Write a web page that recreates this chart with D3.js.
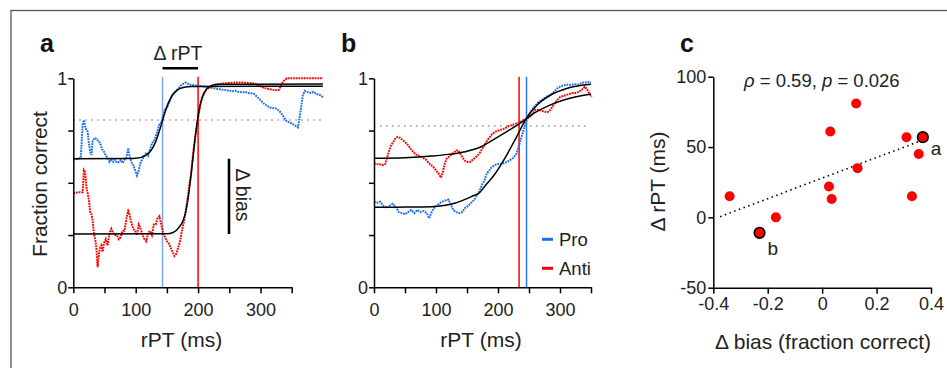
<!DOCTYPE html>
<html>
<head>
<meta charset="utf-8">
<script src="https://d3js.org/d3.v7.min.js"></script>
<style>
  body { margin: 0; background: #fff; }
  svg { display: block; font-family: "Liberation Sans", Arial, Helvetica, sans-serif; }
  .axis path, .axis line { stroke: #000; stroke-width: 1.5px; fill: none; }
  .axis text { font-size: 18px; fill: #222; font-family: "Liberation Sans", Arial, sans-serif; }
  .title { font-size: 21px; fill: #222; }
  .letter { font-size: 25px; font-weight: bold; fill: #111; }
</style>
</head>
<body>
<svg id="fig" width="947" height="368"></svg>
<script>
// panel a: rPT (ms) vs fraction correct, pro (blue) and anti (red)
const proA = [[0,0.612],[4,0.613],[8,0.615],[12,0.62],[15,0.78],[17,0.8],[19,0.77],[21,0.75],[23,0.745],[25,0.69],[27,0.65],[29,0.633],[31,0.7],[34,0.715],[37,0.71],[40,0.7],[43,0.69],[46,0.66],[49,0.65],[52,0.63],[55,0.62],[58,0.6],[61,0.615],[64,0.6],[67,0.61],[70,0.595],[73,0.6],[76,0.61],[79,0.595],[82,0.61],[85,0.62],[88,0.665],[90,0.63],[93,0.6],[96,0.585],[99,0.56],[102,0.535],[105,0.56],[108,0.6],[111,0.615],[114,0.63],[117,0.645],[120,0.63],[123,0.66],[126,0.69],[129,0.7],[132,0.72],[135,0.75],[138,0.78],[141,0.79],[144,0.82],[147,0.85],[150,0.86],[153,0.88],[156,0.9],[159,0.92],[162,0.93],[165,0.94],[168,0.95],[171,0.96],[174,0.97],[177,0.975],[180,0.98],[183,0.975],[186,0.97],[190,0.968],[195,0.966],[200,0.965],[205,0.963],[210,0.96],[215,0.958],[220,0.955],[225,0.952],[230,0.95],[235,0.948],[240,0.945],[245,0.944],[250,0.94],[255,0.938],[260,0.94],[265,0.935],[270,0.933],[275,0.935],[280,0.93],[285,0.928],[290,0.925],[295,0.91],[300,0.895],[305,0.88],[310,0.87],[315,0.86],[320,0.858],[325,0.855],[330,0.845],[335,0.825],[340,0.8],[345,0.79],[350,0.785],[355,0.775],[360,0.765],[362,0.8],[365,0.86],[368,0.92],[371,0.94],[375,0.935],[380,0.93],[385,0.935],[390,0.925],[395,0.92],[400,0.91]];
const antiA = [[0,0.45],[4,0.452],[8,0.455],[12,0.455],[15,0.455],[17,0.56],[19,0.55],[21,0.48],[23,0.45],[25,0.42],[27,0.36],[29,0.35],[31,0.32],[33,0.26],[35,0.23],[37,0.19],[39,0.096],[41,0.16],[43,0.19],[45,0.2],[47,0.17],[49,0.21],[52,0.23],[55,0.2],[58,0.26],[61,0.28],[64,0.26],[67,0.25],[70,0.25],[73,0.23],[76,0.24],[79,0.27],[82,0.27],[84,0.31],[86,0.34],[88,0.365],[90,0.35],[92,0.32],[94,0.3],[96,0.28],[99,0.27],[102,0.25],[105,0.3],[108,0.28],[111,0.25],[114,0.23],[117,0.22],[120,0.26],[123,0.27],[126,0.25],[129,0.3],[132,0.3],[135,0.33],[138,0.34],[141,0.3],[144,0.26],[147,0.24],[150,0.22],[153,0.21],[156,0.19],[159,0.17],[162,0.15],[165,0.16],[168,0.19],[171,0.22],[174,0.27],[177,0.31],[180,0.36],[183,0.42],[186,0.49],[189,0.55],[192,0.64],[195,0.71],[198,0.77],[201,0.83],[204,0.88],[207,0.91],[210,0.93],[213,0.945],[217,0.955],[221,0.96],[225,0.965],[230,0.97],[240,0.975],[250,0.978],[260,0.98],[270,0.98],[280,0.978],[290,0.975],[295,0.97],[300,0.962],[305,0.955],[310,0.95],[315,0.948],[320,0.945],[325,0.943],[330,0.945],[334,0.975],[338,0.99],[342,1],[350,1],[360,1],[370,1],[380,1],[390,1],[400,1]];
const fitProA = [[0,0.615],[90,0.616],[100,0.617],[110,0.623],[120,0.64],[126,0.661],[132,0.697],[138,0.749],[142,0.788],[146,0.828],[152,0.88],[158,0.916],[166,0.942],[176,0.956],[190,0.961],[400,0.962]];
const fitAntiA = [[0,0.255],[150,0.256],[160,0.262],[170,0.289],[176,0.32],[180,0.36],[184,0.427],[188,0.52],[192,0.628],[196,0.733],[200,0.82],[204,0.881],[208,0.92],[214,0.95],[222,0.966],[232,0.971],[400,0.973]];
const critA = 0.8, rptProA = 143, rptAntiA = 200;

// panel b
const proB = [[0,0.41],[5,0.405],[10,0.41],[15,0.39],[20,0.38],[25,0.39],[30,0.4],[35,0.385],[40,0.36],[45,0.355],[50,0.35],[55,0.36],[60,0.37],[65,0.355],[70,0.37],[75,0.36],[80,0.365],[85,0.355],[89,0.33],[93,0.36],[97,0.38],[101,0.39],[105,0.4],[110,0.41],[115,0.415],[120,0.42],[124,0.395],[128,0.37],[132,0.36],[137,0.355],[142,0.36],[147,0.38],[152,0.39],[157,0.405],[162,0.42],[166,0.44],[170,0.46],[174,0.49],[178,0.51],[182,0.545],[186,0.56],[190,0.575],[195,0.585],[200,0.59],[205,0.59],[210,0.595],[215,0.6],[220,0.61],[225,0.62],[230,0.64],[234,0.68],[238,0.72],[242,0.76],[246,0.8],[250,0.83],[255,0.85],[260,0.87],[265,0.885],[270,0.895],[275,0.905],[280,0.915],[285,0.92],[290,0.935],[295,0.95],[300,0.96],[305,0.965],[310,0.97],[315,0.968],[320,0.97],[325,0.972],[330,0.97],[335,0.978],[340,0.98],[345,0.982],[350,0.98]];
const antiB = [[0,0.593],[5,0.59],[10,0.588],[15,0.585],[18,0.59],[21,0.62],[24,0.65],[27,0.675],[30,0.69],[34,0.71],[38,0.72],[42,0.715],[46,0.705],[50,0.695],[55,0.68],[60,0.66],[64,0.645],[68,0.635],[72,0.63],[76,0.625],[80,0.618],[84,0.61],[88,0.595],[92,0.585],[96,0.575],[100,0.56],[104,0.545],[108,0.525],[111,0.55],[114,0.59],[117,0.615],[121,0.625],[125,0.635],[129,0.645],[133,0.655],[136,0.655],[139,0.64],[143,0.62],[147,0.605],[151,0.6],[155,0.6],[159,0.61],[163,0.62],[167,0.63],[171,0.645],[175,0.665],[179,0.685],[183,0.705],[187,0.72],[191,0.735],[196,0.745],[201,0.75],[206,0.755],[211,0.76],[216,0.77],[221,0.775],[226,0.78],[231,0.785],[236,0.79],[241,0.8],[246,0.805],[251,0.815],[256,0.83],[260,0.85],[265,0.85],[270,0.845],[275,0.84],[280,0.838],[285,0.85],[290,0.875],[295,0.895],[300,0.91],[305,0.915],[310,0.92],[315,0.925],[320,0.93],[325,0.93],[330,0.935],[335,0.945],[340,0.96],[344,0.945],[348,0.925],[351,0.91]];
const fitProB = [[0,0.383],[50,0.384],[93,0.386],[130,0.402],[157,0.434],[171,0.455],[179,0.485],[192,0.53],[214,0.633],[230,0.72],[246,0.809],[263,0.872],[285,0.92],[312,0.952],[350,0.971]];
const fitAntiB = [[0,0.617],[50,0.62],[93,0.628],[120,0.636],[147,0.649],[171,0.67],[192,0.705],[214,0.745],[236,0.785],[258,0.833],[280,0.867],[306,0.896],[350,0.925]];
const critB = 0.772, rptProB = 246, rptAntiB = 234;

// panel c: per-session delta bias vs delta rPT
const dBias = [-0.34, -0.17, -0.23, 0.03, 0.025, 0.035, 0.125, 0.13, 0.31, 0.37, 0.355, 0.33];
const dRpt  = [15, 0, -11, 61, 22, 13, 81, 35, 57, 57, 45, 15];
const marked = ["", "", "b", "", "", "", "", "", "", "a", "", ""];
const regLine = [[-0.375, 0.5], [0.37, 55]];

const blue = "#1a6ff0", red = "#ff0000";
const svg = d3.select("#fig");

// frame
svg.append("rect").attr("x", 11).attr("y", 10.5).attr("width", 960).attr("height", 380)
  .attr("fill", "none").attr("stroke", "#555").attr("stroke-width", 1.3);

const yF = d3.scaleLinear().domain([0, 1]).range([287.3, 78.3]);
const xA = d3.scaleLinear().domain([0, 350]).range([73.3, 291.7]);
const xB = d3.scaleLinear().domain([0, 350]).range([374, 591]);
const hyphen = s => String(s).replace("\u2212", "-");

function fracAxes(x, pad) {
  svg.append("g").attr("class", "axis").attr("transform", `translate(0,${yF(0)})`)
    .call(d3.axisBottom(x).tickValues([0, 50, 100, 150, 200, 250, 300, 350])
      .tickFormat(d => d % 100 === 0 ? d : "").tickSize(6).tickPadding(pad).tickSizeOuter(0));
  svg.append("g").attr("class", "axis").attr("transform", `translate(${x(0)},0)`)
    .call(d3.axisLeft(yF).tickValues([0, 0.25, 0.5, 0.75, 1])
      .tickFormat(d => d === 0 || d === 1 ? d : "").tickSize(5).tickPadding(1).tickSizeOuter(0));
}

function dotted(data, x, color) {
  svg.append("path").datum(data)
    .attr("d", d3.line().x(d => x(d[0])).y(d => yF(d[1])))
    .attr("fill", "none").attr("stroke", color).attr("stroke-width", 2)
    .attr("stroke-dasharray", "1.8,0.9");
}
function fit(data, x) {
  svg.append("path").datum(data)
    .attr("d", d3.line().curve(d3.curveMonotoneX).x(d => x(d[0])).y(d => yF(d[1])))
    .attr("fill", "none").attr("stroke", "#000").attr("stroke-width", 1.5);
}
function vline(x, v, color) {
  svg.append("line").attr("x1", x(v)).attr("x2", x(v)).attr("y1", yF(1.007)).attr("y2", yF(0))
    .attr("stroke", color).attr("stroke-width", 1.5);
}
function crit(x, v, end) {
  svg.append("line").attr("x1", x(0)).attr("x2", x(end)).attr("y1", yF(v)).attr("y2", yF(v))
    .attr("stroke", "#999").attr("stroke-width", 1.5).attr("stroke-dasharray", "1.5,4.5");
}

// ---- panel a
crit(xA, critA, 400);
vline(xA, rptProA, "#74a8f2");
vline(xA, rptAntiA, red);
dotted(proA, xA, blue);
dotted(antiA, xA, red);
fit(fitProA, xA);
fit(fitAntiA, xA);
fracAxes(xA, 10);

svg.append("line").attr("x1", xA(rptProA)).attr("x2", xA(rptAntiA)).attr("y1", 68.3).attr("y2", 68.3)
  .attr("stroke", "#000").attr("stroke-width", 2.6);
svg.append("text").attr("x", 178).attr("y", 60).attr("text-anchor", "middle")
  .style("font-size", "19.5px").attr("fill", "#222").text("Δ rPT");
svg.append("line").attr("x1", 229).attr("x2", 229).attr("y1", yF(fitProA[0][1])).attr("y2", yF(fitAntiA[0][1]))
  .attr("stroke", "#000").attr("stroke-width", 2.6);
svg.append("text").attr("transform", "translate(236,195) rotate(90)").attr("text-anchor", "middle")
  .style("font-size", "19.5px").attr("fill", "#222").text("Δ bias");

svg.append("text").attr("class", "letter").attr("x", 40).attr("y", 52).text("a");
svg.append("text").attr("class", "title").attr("transform", "translate(46.5,184) rotate(-90)")
  .attr("text-anchor", "middle").text("Fraction correct");
svg.append("text").attr("class", "title").attr("x", 181.5).attr("y", 346.5)
  .attr("text-anchor", "middle").text("rPT (ms)");

// ---- panel b
crit(xB, critB, 348);
vline(xB, rptAntiB, red);
vline(xB, rptProB, "#2a78f0");
dotted(proB, xB, blue);
dotted(antiB, xB, red);
fit(fitProB, xB);
fit(fitAntiB, xB);
fracAxes(xB, 10);

const legend = [["Pro", blue], ["Anti", red]];
legend.forEach((l, i) => {
  const yy = 239.3 + i * 29;
  svg.append("line").attr("x1", 542).attr("x2", 553).attr("y1", yy).attr("y2", yy)
    .attr("stroke", l[1]).attr("stroke-width", 3);
  svg.append("text").attr("x", 559).attr("y", yy + 6.5).style("font-size", "18.5px")
    .attr("fill", "#222").text(l[0]);
});

svg.append("text").attr("class", "letter").attr("x", 341).attr("y", 52).text("b");
svg.append("text").attr("class", "title").attr("x", 481).attr("y", 346.5)
  .attr("text-anchor", "middle").text("rPT (ms)");

// ---- panel c
const xC = d3.scaleLinear().domain([-0.4, 0.4]).range([713.3, 931]);
const yC = d3.scaleLinear().domain([-50, 100]).range([287.7, 76.7]);

svg.append("g").attr("class", "axis").attr("transform", `translate(0,${yC(-50)})`)
  .call(d3.axisBottom(xC).tickValues([-0.4, -0.2, 0, 0.2, 0.4]).tickFormat(d => d === 0 ? "0" : hyphen(d3.format(".1f")(d)))
    .tickSize(6).tickPadding(4).tickSizeOuter(0));
svg.append("g").attr("class", "axis").attr("transform", `translate(${xC(-0.4)},0)`)
  .call(d3.axisLeft(yC).tickValues([-50, 0, 50, 100]).tickFormat(d => hyphen(d))
    .tickSize(5).tickPadding(2).tickSizeOuter(0));

svg.append("path").datum(regLine)
  .attr("d", d3.line().x(d => xC(d[0])).y(d => yC(d[1])))
  .attr("stroke", "#000").attr("stroke-width", 1.6).attr("stroke-dasharray", "1.5,3.5").attr("fill", "none");

dBias.forEach((b, i) => {
  const m = marked[i] !== "";
  svg.append("circle").attr("cx", xC(b)).attr("cy", yC(dRpt[i])).attr("r", m ? 5.3 : 5)
    .attr("fill", red).attr("stroke", m ? "#000" : "none").attr("stroke-width", 1.6);
  if (m) {
    svg.append("text").attr("x", xC(b) + 8).attr("y", yC(dRpt[i]) + (marked[i] === "a" ? 18 : 22))
      .style("font-size", "19px").attr("fill", "#222").text(marked[i]);
  }
});

const stat = svg.append("text").attr("x", 744).attr("y", 86.5).style("font-size", "18.5px").attr("fill", "#222");
stat.append("tspan").style("font-style", "italic").text("ρ");
stat.append("tspan").text(" = 0.59, ");
stat.append("tspan").style("font-style", "italic").text("p");
stat.append("tspan").text(" = 0.026");

svg.append("text").attr("class", "letter").attr("x", 680).attr("y", 52).text("c");
svg.append("text").attr("class", "title").attr("transform", "translate(665,181.5) rotate(-90)")
  .attr("text-anchor", "middle").text("Δ rPT (ms)");
svg.append("text").attr("class", "title").attr("x", 823).attr("y", 349)
  .attr("text-anchor", "middle").text("Δ bias (fraction correct)");
</script>
</body>
</html>
